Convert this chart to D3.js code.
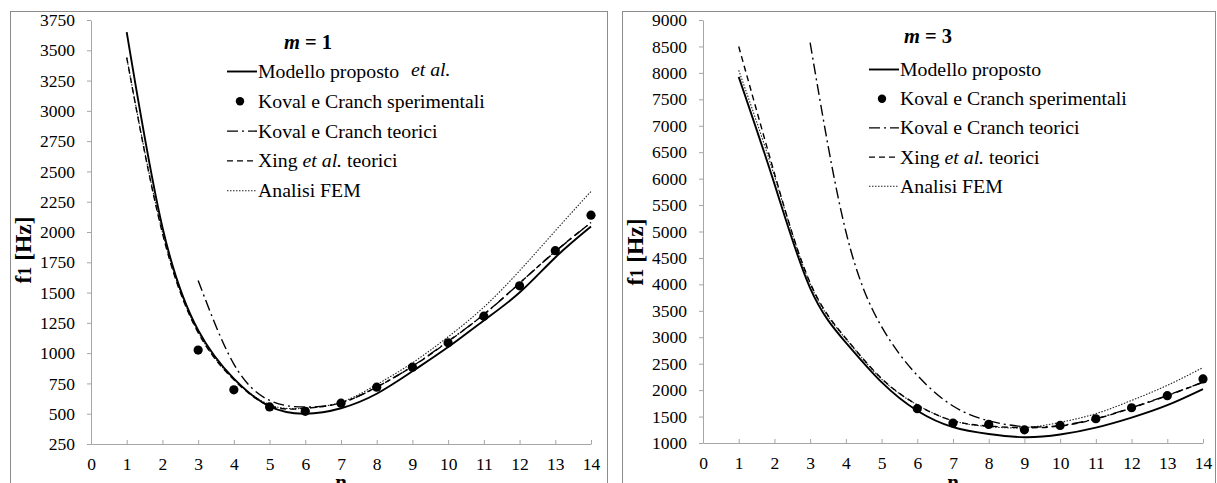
<!DOCTYPE html>
<html><head><meta charset="utf-8">
<script src="https://cdn.jsdelivr.net/npm/d3@7"></script>
<style>
body{margin:0;background:#fff;}
svg{display:block;}
svg text{font-family:"Liberation Serif","Times New Roman",serif !important;fill:#000;}
</style>
</head><body>
<svg id="c" width="1217" height="483"></svg>
<script>
// ---------- data ----------
const nAll = [1,2,3,4,5,6,7,8,9,10,11,12,13,14];
const nFrom3 = [3,4,5,6,7,8,9,10,11,12,13,14];
const nFrom6 = [6,7,8,9,10,11,12,13,14];
const xTicks = [0,1,2,3,4,5,6,7,8,9,10,11,12,13,14];

// m = 1
const m1Modello = [3650, 2040, 1190, 790, 560, 500, 545, 665, 850, 1050, 1270, 1500, 1790, 2045];
const m1Xing    = [3440, 1990, 1170, 780, 565, 545, 590, 720, 890, 1095, 1320, 1578, 1840, 2078];
const m1Fem     = [3440, 2000, 1175, 785, 575, 545, 595, 740, 920, 1135, 1380, 1680, 2010, 2335];
const m1KovalTeo  = [1600, 910, 610, 555, 590, 720, 892, 1098, 1319, 1577, 1838, 2077];
const m1KovalSper = [1025, 697, 556, 520, 587, 719, 884, 1085, 1305, 1556, 1846, 2139];
const m1YTicks = [250,500,750,1000,1250,1500,1750,2000,2250,2500,2750,3000,3250,3500,3750];

// m = 3
const m3Modello = [7925, 5900, 3930, 2900, 2150, 1610, 1300, 1170, 1110, 1160, 1290, 1480, 1715, 2020];
const m3Xing    = [8500, 6100, 4030, 2980, 2220, 1720, 1420, 1320, 1290, 1320, 1455, 1662, 1895, 2150];
const m3Fem     = [8050, 6050, 4010, 2970, 2210, 1720, 1420, 1310, 1290, 1390, 1555, 1805, 2090, 2428];
const m3KovalTeo  = [8570, 5000, 3200, 2280, 1700, 1420, 1310, 1330, 1460, 1667, 1900, 2150];
const m3KovalSper = [1649, 1377, 1351, 1250, 1332, 1459, 1667, 1895, 2211];
const m3YTicks = [1000,1500,2000,2500,3000,3500,4000,4500,5000,5500,6000,6500,7000,7500,8000,8500,9000];

const legendLabels = ["Modello proposto", "Koval e Cranch sperimentali", "Koval e Cranch teorici", "Xing et al. teorici", "Analisi FEM"];

// ---------- drawing ----------
const svg = d3.select("#c");
const styles = {
  modello: {w:1.9, dash:null, color:"#000"},
  kovalTeo: {w:1.4, dash:"11,4,2,4", color:"#000"},
  xing: {w:1.4, dash:"6,4", color:"#000"},
  fem: {w:1.1, dash:"1.5,1.5", color:"#222"}
};

function panel(cfg){
  const g = svg.append("g");
  g.append("rect").attr("x",cfg.frame[0]+0.5).attr("y",11.5)
    .attr("width",cfg.frame[1]-cfg.frame[0]).attr("height",500)
    .attr("fill","none").attr("stroke","#8c8c8c").attr("stroke-width",1);

  const x = d3.scaleLinear().domain([0,14]).range(cfg.xr);
  const y = d3.scaleLinear().domain(cfg.yd).range(cfg.yr);

  const ya = g.append("g").attr("transform",`translate(${cfg.xr[0]},0)`)
    .call(d3.axisLeft(y).tickValues(cfg.yTicks).tickSize(4).tickPadding(12).tickSizeOuter(0).tickFormat(d3.format("d")));
  ya.attr("font-family",null);
  ya.select(".domain").attr("stroke","#a6a6a6");
  ya.selectAll(".tick line").attr("stroke","#a6a6a6");
  ya.selectAll(".tick text").attr("font-size","17.5px").attr("fill","#000");

  const xa = g.append("g").attr("transform",`translate(0,${cfg.yr[0]})`)
    .call(d3.axisBottom(x).tickValues(xTicks).tickSize(-4).tickSizeOuter(0).tickFormat(d3.format("d")));
  xa.attr("font-family",null);
  xa.select(".domain").attr("stroke","#a6a6a6");
  xa.selectAll(".tick line").attr("stroke","#a6a6a6");
  xa.selectAll(".tick text").attr("font-size","17.5px").attr("fill","#000").attr("y",26).attr("dy",0);

  const yt = g.append("text").attr("transform",`translate(${cfg.ytX},${cfg.ytY}) rotate(-90)`)
    .attr("text-anchor","middle").attr("font-weight","bold").attr("font-size","23.5px");
  yt.append("tspan").text("f");
  yt.append("tspan").attr("font-size","18px").text("1");
  yt.append("tspan").text(" [Hz]");
  g.append("text").attr("x",(cfg.xr[0]+cfg.xr[1])/2).attr("y",489)
    .attr("text-anchor","middle").attr("font-weight","bold").attr("font-size","21px").text("n");

  const lineGen = d3.line().x(d=>x(d[0])).y(d=>y(d[1])).curve(d3.curveNatural);
  function drawLine(ns, vals, st){
    g.append("path").datum(ns.map((n,i)=>[n,vals[i]]))
      .attr("d",lineGen).attr("fill","none").attr("stroke",st.color)
      .attr("stroke-width",st.w).attr("stroke-dasharray",st.dash);
  }
  drawLine(nAll, cfg.fem, styles.fem);
  drawLine(nAll, cfg.xing, styles.xing);
  drawLine(nFrom3, cfg.kovalTeo, styles.kovalTeo);
  drawLine(nAll, cfg.modello, styles.modello);
  g.selectAll("circle.pt").data(cfg.sperN.map((n,i)=>[n,cfg.sper[i]])).enter().append("circle")
    .attr("cx",d=>x(d[0])).attr("cy",d=>y(d[1])).attr("r",4.6).attr("fill","#000");

  const L = cfg.legend;
  const mt = g.append("text").attr("x",L.mx).attr("y",L.my).attr("text-anchor","middle")
    .attr("font-weight","bold").attr("font-size","20.5px");
  mt.append("tspan").attr("font-style","italic").text("m");
  mt.append("tspan").text(" = " + cfg.m);

  const keys = ["modello","sper","kovalTeo","xing","fem"];
  keys.forEach((k,i)=>{
    const by = L.y0 + i*L.dy;
    const cy = by - 6.5;
    if(k==="sper"){
      g.append("circle").attr("cx",L.x0+13).attr("cy",cy).attr("r",4.2).attr("fill","#000");
    } else {
      const st = styles[k];
      g.append("line").attr("x1",L.x0).attr("x2",L.x0+30).attr("y1",cy).attr("y2",cy)
        .attr("stroke",st.color).attr("stroke-width",st.w).attr("stroke-dasharray",st.dash);
    }
    const t = g.append("text").attr("x",L.x0+31).attr("y",by).attr("font-size","19.8px");
    if(k==="xing"){
      t.append("tspan").text("Xing ");
      t.append("tspan").attr("font-style","italic").text("et al.");
      t.append("tspan").text(" teorici");
    } else {
      t.text(legendLabels[i]);
    }
    if(k==="modello" && cfg.etal){
      g.append("text").attr("x",cfg.etal).attr("y",by-2).attr("font-size","19.8px")
        .attr("font-style","italic").text("et al.");
    }
  });
}

panel({
  frame:[10,607], xr:[91,591], yd:[250,3750], yr:[444,20], yTicks:m1YTicks,
  ytX:31, ytY:250, m:1,
  modello:m1Modello, xing:m1Xing, fem:m1Fem, kovalTeo:m1KovalTeo, sper:m1KovalSper, sperN:nFrom3,
  legend:{x0:227, y0:78, dy:29.8, mx:308, my:49}, etal:411
});
panel({
  frame:[622,1215], xr:[703,1203], yd:[1000,9000], yr:[443,20], yTicks:m3YTicks,
  ytX:643, ytY:252, m:3,
  modello:m3Modello, xing:m3Xing, fem:m3Fem, kovalTeo:m3KovalTeo, sper:m3KovalSper, sperN:nFrom6,
  legend:{x0:869, y0:76, dy:29.2, mx:928, my:43}, etal:null
});
</script>
</body></html>
